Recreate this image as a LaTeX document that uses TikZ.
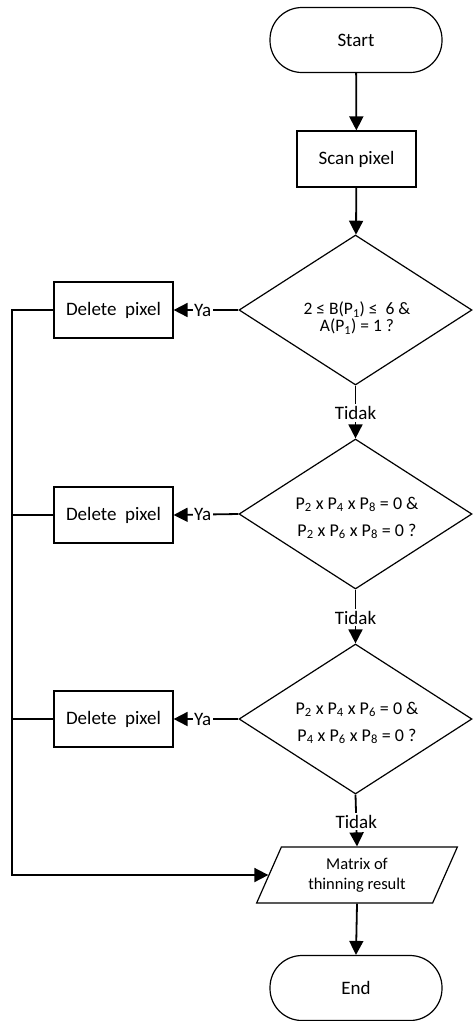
\documentclass[tikz,border=0pt]{standalone}
\usepackage{fontspec}
\setmainfont{Carlito}
\usetikzlibrary{shapes.geometric, arrows.meta}
\begin{document}
\begin{tikzpicture}[x=1pt, y=-1pt,
  every node/.style={font=\fontsize{19}{22}\selectfont, inner sep=0pt},
  termbox/.style={draw, line width=1.2pt, rounded corners=32pt,
    minimum width=172pt, minimum height=65pt},
  procbox/.style={draw, line width=1.2pt, rectangle,
    minimum width=119pt, minimum height=56pt},
  decbox/.style={draw, line width=1.2pt, diamond,
    minimum width=233pt, minimum height=150pt},
  iobox/.style={draw, line width=1.2pt, trapezium,
    trapezium left angle=65, trapezium right angle=115,
    trapezium stretches=true, minimum width=201pt, minimum height=56pt,
    align=center, font=\fontsize{16.5}{20}\selectfont},
  condtext/.style={align=center, font=\fontsize{18}{27}\selectfont},
  link/.style={line width=1.8pt},
  flow/.style={link, -{Triangle[length=14pt, width=14pt]}},
  tag/.style={fill=white, inner xsep=1.5pt, inner ysep=2pt},
]
\useasboundingbox (0,0) rectangle (473,1021);

% main column
\node[termbox] (start) at (356,40) {Start};
\node[procbox] (scan) at (356.5,159) {Scan pixel};
\node[decbox] (d1) at (355.5,310) {};
\node[condtext, font=\fontsize{17.5}{17}\selectfont] (d1t) at (357,318)
  {2 ≤ B(P\textsubscript{1}) ≤~ 6 \&\\A(P\textsubscript{1}) = 1 ?};
\node[decbox] (d2) at (355.5,514) {};
\node[condtext] (d2t) at (357,518)
  {P\textsubscript{2} x P\textsubscript{4} x P\textsubscript{8} = 0 \&\\
   P\textsubscript{2} x P\textsubscript{6} x P\textsubscript{8} = 0 ?};
\node[decbox] (d3) at (355.5,719) {};
\node[condtext] (d3t) at (357,723)
  {P\textsubscript{2} x P\textsubscript{4} x P\textsubscript{6} = 0 \&\\
   P\textsubscript{4} x P\textsubscript{6} x P\textsubscript{8} = 0 ?};
\node[iobox] (mat) at (357,875) {Matrix of\\thinning result};
\node[termbox] (end) at (356,988) {End};

% left column
\node[procbox] (del1) at (113.5,310) {Delete~ pixel};
\node[procbox] (del2) at (113.5,515) {Delete~ pixel};
\node[procbox] (del3) at (113.5,719) {Delete~ pixel};
\coordinate (bx) at (12,0);

% connectors
\draw[flow] (start) -- (scan);
\draw[flow] (scan) -- (d1);
\draw[flow] (d1.south) -- node[tag, pos=0.52] (n1) {Tidak} (d2.north);
\draw[flow] (d2.south) -- node[tag, pos=0.52] (n2) {Tidak} (d3.north);
\draw[flow] (d3.south) -- node[tag, pos=0.52] (n3) {Tidak} (mat.north);
\draw[flow] (mat.south) -- (end.north);

\draw[flow] (d1.west) -- node[tag, pos=0.55] (y1) {Ya} (del1.east);
\draw[flow] (d2.west) -- node[tag, pos=0.55] (y2) {Ya} (del2.east);
\draw[flow] (d3.west) -- node[tag, pos=0.55] (y3) {Ya} (del3.east);

\draw[flow] (del1.west) -- (del1.west -| bx) -- (mat.west -| bx) -- (mat.west);
\draw[link] (del2.west) -- (del2.west -| bx);
\draw[link] (del3.west) -- (del3.west -| bx);
\end{tikzpicture}
\end{document}
